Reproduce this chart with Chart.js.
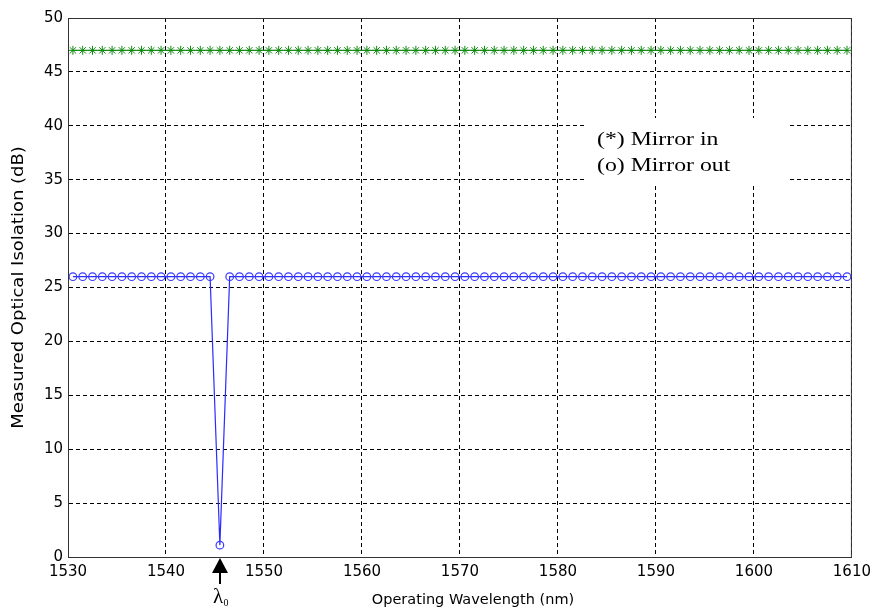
<!DOCTYPE html>
<html lang="en">
<head>
    <meta charset="UTF-8">
    <title>Measured Optical Isolation</title>
    <script src="https://cdn.jsdelivr.net/npm/chart.js"></script>
    <style>
        html, body { margin: 0; padding: 0; background: #fff; }
        #wrap { width: 877px; height: 616px; }
    </style>
</head>
<body>
    <div id="wrap"><canvas id="isoChart"></canvas></div>

    <script>
        // wavelengths (nm), measured at half-nm offsets
        const wavelengths = [];
        for (let w = 1530.5; w < 1610; w += 1) wavelengths.push(w);

        const mirrorIn = [
            47, 47, 47, 47, 47, 47, 47, 47, 47, 47,
            47, 47, 47, 47, 47, 47, 47, 47, 47, 47,
            47, 47, 47, 47, 47, 47, 47, 47, 47, 47,
            47, 47, 47, 47, 47, 47, 47, 47, 47, 47,
            47, 47, 47, 47, 47, 47, 47, 47, 47, 47,
            47, 47, 47, 47, 47, 47, 47, 47, 47, 47,
            47, 47, 47, 47, 47, 47, 47, 47, 47, 47,
            47, 47, 47, 47, 47, 47, 47, 47, 47, 47
        ];
        const mirrorOut = [
            26, 26, 26, 26, 26, 26, 26, 26, 26, 26,
            26, 26, 26, 26, 26, 1.1, 26, 26, 26, 26,
            26, 26, 26, 26, 26, 26, 26, 26, 26, 26,
            26, 26, 26, 26, 26, 26, 26, 26, 26, 26,
            26, 26, 26, 26, 26, 26, 26, 26, 26, 26,
            26, 26, 26, 26, 26, 26, 26, 26, 26, 26,
            26, 26, 26, 26, 26, 26, 26, 26, 26, 26,
            26, 26, 26, 26, 26, 26, 26, 26, 26, 26
        ];
        const xTicks = [1530, 1540, 1550, 1560, 1570, 1580, 1590, 1600, 1610];
        const yTicks = [0, 5, 10, 15, 20, 25, 30, 35, 40, 45, 50];
        const legendLines = ['(*) Mirror in', '(o) Mirror out'];
        const xTitle = 'Operating Wavelength (nm)';
        const yTitle = 'Measured Optical Isolation (dB)';
        const lambda0 = 1545.5;

        const toPoints = ys => ys.map((y, i) => ({ x: wavelengths[i], y: y }));
        const sans = '"DejaVu Sans", Verdana, sans-serif';

        // box, legend text, axis titles and the lambda-0 marker
        const extras = {
            id: 'extras',
            afterDraw(chart) {
                const ctx = chart.ctx;
                const a = chart.chartArea;
                const xs = chart.scales.x;

                ctx.save();
                ctx.strokeStyle = '#333';
                ctx.lineWidth = 1;
                ctx.strokeRect(a.left + 0.5, a.top + 0.5, a.right - a.left - 1, a.bottom - a.top);

                // text box covering the grid
                ctx.fillStyle = '#fff';
                ctx.fillRect(585, 118, 205, 66);
                ctx.fillStyle = '#000';
                ctx.textBaseline = 'middle';
                ctx.textAlign = 'left';
                ctx.save();
                ctx.translate(597, 0);
                ctx.scale(1.25, 1);
                ctx.font = '19px "Liberation Serif", "Times New Roman", serif';
                ctx.fillText(legendLines[0], 0, 140);
                ctx.fillText(legendLines[1], 0, 166);
                ctx.restore();

                // x axis title
                ctx.textAlign = 'center';
                ctx.font = '14.5px ' + sans;
                ctx.fillText(xTitle, 473, 600);

                // y axis title, stretched along its length
                ctx.save();
                ctx.translate(19, (a.top + a.bottom) / 2);
                ctx.rotate(-Math.PI / 2);
                ctx.scale(1.2, 1);
                ctx.font = '15px ' + sans;
                ctx.fillText(yTitle, 0, 0);
                ctx.restore();

                // arrow below the axis
                const ax = Math.round(xs.getPixelForValue(lambda0));
                ctx.beginPath();
                ctx.moveTo(ax, a.bottom + 1);
                ctx.lineTo(ax - 8, a.bottom + 16);
                ctx.lineTo(ax + 8, a.bottom + 16);
                ctx.closePath();
                ctx.fill();
                ctx.fillRect(ax - 1, a.bottom + 15, 2, 12);

                ctx.font = '21px "Liberation Serif", serif';
                ctx.fillText('\u03bb', ax - 2, 597);
                ctx.font = '10px "Liberation Serif", serif';
                ctx.fillText('0', ax + 6, 603);
                ctx.restore();
            }
        };

        new Chart(document.getElementById('isoChart'), {
            type: 'scatter',
            data: {
                datasets: [
                    {
                        label: 'Mirror in',
                        data: toPoints(mirrorIn),
                        showLine: true,
                        borderColor: '#008000',
                        backgroundColor: '#008000',
                        borderWidth: 1,
                        pointStyle: 'star',
                        pointRadius: 4.5,
                        pointBorderWidth: 1,
                        pointBorderColor: '#108a10'
                    },
                    {
                        label: 'Mirror out',
                        data: toPoints(mirrorOut),
                        showLine: true,
                        borderColor: '#2b2bff',
                        backgroundColor: 'rgba(0,0,0,0)',
                        borderWidth: 1.2,
                        pointStyle: 'circle',
                        pointRadius: 3.8,
                        pointBorderWidth: 1.2,
                        pointBorderColor: '#3a3aff'
                    }
                ]
            },
            options: {
                responsive: true,
                maintainAspectRatio: false,
                animation: false,
                layout: { padding: { top: 18, right: 22, bottom: 0, left: 0 } },
                plugins: {
                    legend: { display: false },
                    tooltip: { enabled: false }
                },
                scales: {
                    x: {
                        type: 'linear',
                        min: 1530,
                        max: 1610,
                        afterBuildTicks: s => { s.ticks = xTicks.map(v => ({ value: v })); },
                        afterFit: s => { s.height = 59; },
                        grid: { color: '#000', lineWidth: 1, drawTicks: false },
                        border: { color: '#333', width: 1, dash: [4, 3] },
                        ticks: {
                            color: '#000',
                            padding: 6,
                            maxRotation: 0,
                            callback: v => String(v),
                            font: { family: sans, size: 15 }
                        }
                    },
                    y: {
                        min: 0,
                        max: 50,
                        afterBuildTicks: s => { s.ticks = yTicks.map(v => ({ value: v })); },
                        afterFit: s => { s.width = 68; },
                        grid: { color: '#000', lineWidth: 1, drawTicks: false },
                        border: { color: '#333', width: 1, dash: [4, 3] },
                        ticks: {
                            color: '#000',
                            padding: 5,
                            callback: v => String(v),
                            font: { family: sans, size: 15 }
                        }
                    }
                }
            },
            plugins: [extras]
        });
    </script>
</body>
</html>
